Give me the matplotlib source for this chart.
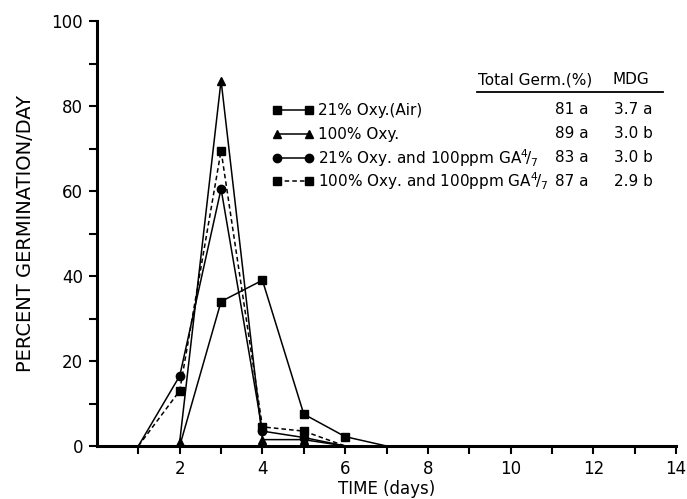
import matplotlib
matplotlib.use("Agg")
import matplotlib.pyplot as plt
from matplotlib.lines import Line2D

plt.rcParams['font.family'] = ['DejaVu Sans']

# ---- data ----
air_x = [2, 3, 4, 5, 6, 7]
air_y = [0, 34, 39, 7.5, 2.2, 0]

oxy_x = [2, 3, 4, 5, 6]
oxy_y = [1, 86, 1.5, 1.5, 0]

air_ga_x = [1, 2, 3, 4, 5, 6]
air_ga_y = [0, 16.5, 60.5, 3.5, 2, 0]

oxy_ga_x = [1, 2, 3, 4, 5, 6]
oxy_ga_y = [0, 13, 69.5, 4.5, 3.5, 0]

labels = ["21% Oxy.(Air)", "100% Oxy.",
          r"21% Oxy. and 100ppm GA$^{4}\!/_{7}$",
          r"100% Oxy. and 100ppm GA$^{4}\!/_{7}$"]
total_germ = ["81 a", "89 a", "83 a", "87 a"]
mdg = ["3.7 a", "3.0 b", "3.0 b", "2.9 b"]

W, H = 687, 499
fig = plt.figure(figsize=(W / 100, H / 100), dpi=100)
ax = fig.add_axes([97 / W, 1 - 446 / H, (676 - 97) / W, (446 - 21) / H])

lw = 1.1
ms = 6
ax.plot(air_x, air_y, '-', color='k', lw=lw, marker='s', ms=ms, clip_on=False, zorder=3,
        markevery=[1, 2, 3, 4])
ax.plot(oxy_x, oxy_y, '-', color='k', lw=lw, marker='^', ms=ms, clip_on=False, zorder=3,
        markevery=[0, 1, 2, 3])
ax.plot(air_ga_x, air_ga_y, '-', color='k', lw=lw, marker='o', ms=ms, clip_on=False, zorder=3,
        markevery=[1, 2, 3, 4])
ax.plot(oxy_ga_x, oxy_ga_y, '--', color='k', lw=lw, marker='s', ms=ms, clip_on=False, zorder=3,
        dashes=(3, 2), markevery=[1, 2, 3, 4])

ax.set_xlim(0, 14)
ax.set_ylim(0, 100)
ax.set_xticks(range(2, 15, 2))
ax.set_xticks(range(1, 15, 2), minor=True)
ax.set_yticks(range(0, 101, 20))
ax.set_yticks(range(10, 100, 20), minor=True)
for s in ['top', 'right']:
    ax.spines[s].set_visible(False)
for s in ['left', 'bottom']:
    ax.spines[s].set_linewidth(2.2)
ax.tick_params(which='both', direction='out', length=6, width=1.5, labelsize=12, pad=4)
ax.set_xlabel("TIME (days)", fontsize=12)
ax.set_ylabel("PERCENT GERMINATION/DAY", fontsize=14, labelpad=12)
ax.xaxis.set_label_coords(0.5, -0.08)

# ---- custom legend / table ----
def fx(px):
    return px / W

def fy(py):
    return 1 - py / H

tf = fig.transFigure
fs = 11
fig.text(fx(478), fy(80), "Total Germ.(%)", fontsize=fs, va='center', ha='left', transform=tf)
fig.text(fx(613), fy(80), "MDG", fontsize=fs, va='center', ha='left', transform=tf)
fig.add_artist(Line2D([fx(477), fx(663)], [fy(92), fy(92)], color='k', lw=1.3, transform=tf))

rows_y = [110, 134, 158, 181]
styles = [('-', 's'), ('-', '^'), ('-', 'o'), ('--', 's')]
for i, py in enumerate(rows_y):
    ls, mk = styles[i]
    ln = Line2D([fx(277), fx(309)], [fy(py), fy(py)], color='k', lw=lw, linestyle=ls,
                marker=mk, ms=ms, transform=tf)
    if ls == '--':
        ln.set_dashes((3, 2))
    fig.add_artist(ln)
    fig.text(fx(318), fy(py), labels[i], fontsize=fs, va='center', ha='left', transform=tf)
    fig.text(fx(555), fy(py), total_germ[i], fontsize=fs, va='center', ha='left', transform=tf)
    fig.text(fx(614), fy(py), mdg[i], fontsize=fs, va='center', ha='left', transform=tf)

fig.savefig("out.png", dpi=100)
